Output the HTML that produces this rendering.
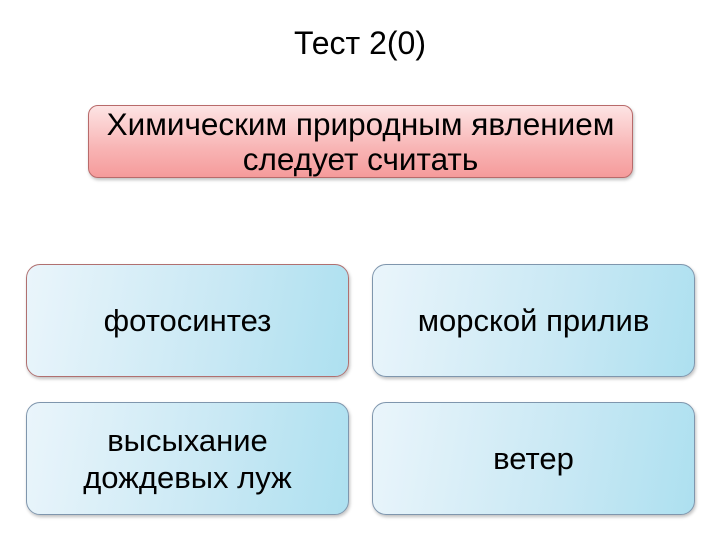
<!DOCTYPE html>
<html><head><meta charset="utf-8"><style>
body{margin:0;width:720px;height:540px;background:#fff;font-family:"Liberation Sans",sans-serif;position:relative;overflow:hidden}
.t{position:absolute;left:0;width:720px;top:25px;text-align:center;font-size:32px;color:#000}
.b{position:absolute;box-sizing:border-box;border-radius:14px;display:flex;align-items:center;justify-content:center;text-align:center;font-size:31px;line-height:37px;color:#000;box-shadow:1px 2px 3px rgba(0,0,0,.25)}
.q{left:88px;top:105px;width:545px;height:73px;border:1px solid #b86a6a;border-radius:10px;font-size:31.5px;line-height:35px;background:linear-gradient(to bottom,#fde4e4,#f8b4b4 60%,#f59b9b)}
.a{width:323px;height:113px;border:1px solid #7f96ad;background:linear-gradient(100deg,#eaf5fb,#c8e8f4 60%,#ade0f0)}
</style></head><body>
<div class="t">Тест 2(0)</div>
<div class="b q">Химическим природным явлением<br>следует считать</div>
<div class="b a" style="left:26px;top:264px;border-color:#b07070">фотосинтез</div>
<div class="b a" style="left:372px;top:264px">морской прилив</div>
<div class="b a" style="left:26px;top:402px">высыхание<br>дождевых луж</div>
<div class="b a" style="left:372px;top:402px">ветер</div>
</body></html>
